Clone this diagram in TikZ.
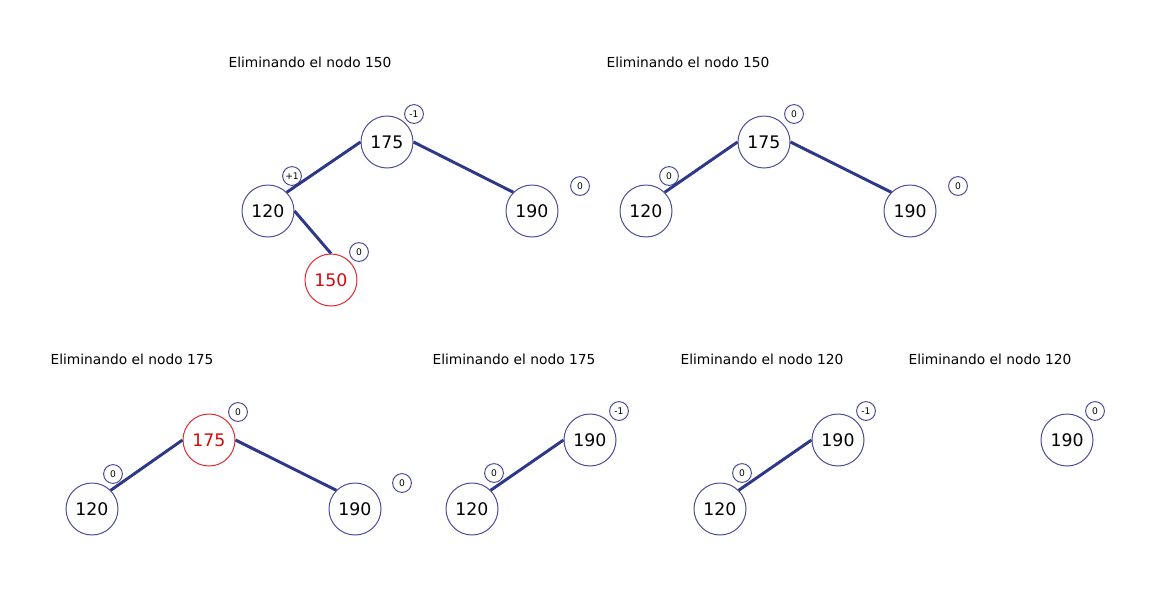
\documentclass[tikz,border=0pt]{standalone}
\usepackage{fontspec}
\setmainfont{DejaVu Sans}
\definecolor{nodeblue}{HTML}{4B4B98}
\definecolor{edgeblue}{HTML}{2E3888}
\definecolor{delred}{HTML}{E0282D}
\definecolor{deltext}{HTML}{D40A0A}
\begin{document}
\begin{tikzpicture}
[x=0.025cm,y=-0.025cm,
 keydecorate/.style={shape=circle,draw=nodeblue,line width=0.7pt,
   minimum size=1.3cm,inner sep=0pt,font=\fontsize{12.3}{14}\selectfont},%
 deldecorate/.style={keydecorate,draw=delred,text=deltext},
 balancedecorate/.style={shape=circle,draw=nodeblue,line width=0.7pt,
   minimum size=0.47cm,inner sep=0pt,font=\fontsize{6.5}{8}\selectfont},
 titledecorate/.style={anchor=base,inner sep=0pt,font=\fontsize{9.8}{12}\selectfont},
 linedecorate/.style={-,draw=edgeblue,line width=2.1pt}]
\useasboundingbox (0,0) rectangle (1160,593);
%% titles
\foreach \nodename/\x/\y/\key in {
  t1/310/67/150, t2/688/67/150,
  t3/132/364/175, t4/514/364/175, t5/762/364/120, t6/990/364/120}
{
  \node (\nodename) at (\x,\y) [titledecorate] {Eliminando el nodo \key};
}
%% nodes or keys
\foreach \nodename/\x/\y/\key/\look in {
  %% first tree
  a175/387/142/175/keydecorate, a120/268/211/120/keydecorate,
  a190/532/211/190/keydecorate, a150/331/280/150/deldecorate,
  %% second tree
  b175/764/142/175/keydecorate, b120/646/211/120/keydecorate,
  b190/910/211/190/keydecorate,
  %% third tree
  c175/209/440/175/deldecorate, c120/92/509/120/keydecorate,
  c190/355/509/190/keydecorate,
  %% fourth and fifth tree
  d190/590/440/190/keydecorate, d120/472/509/120/keydecorate,
  e190/838/440/190/keydecorate, e120/720/509/120/keydecorate,
  %% last tree
  f190/1067/440/190/keydecorate}
{
  \node (\nodename) at (\x,\y) [\look] {\key};
}
%% balance factors
\foreach \nodename/\x/\y/\factor in {
  a175b/414/114/-1, a120b/292/176/+1, a190b/580/186/0, a150b/359/252/0,
  b175b/794/114/0, b120b/669/176/0, b190b/958/186/0,
  c175b/238/412/0, c120b/113/474/0, c190b/402/483/0,
  d190b/619/411/-1, d120b/494/473/0,
  e190b/866/411/-1, e120b/742/473/0,
  f190b/1095/411/0}
{
  \node (\nodename) at (\x,\y) [balancedecorate] {\factor};
}
%% edges or lines
\path
\foreach \startnode/\endnode in {a175.west/a120.north east,
  a175.east/a190.north west, a120.east/a150.north,
  b175.west/b120.north east, b175.east/b190.north west,
  c175.west/c120.north east, c175.east/c190.north west,
  d190.west/d120.north east, e190.west/e120.north east}
{
  (\startnode) edge[linedecorate] (\endnode)
};
\end{tikzpicture}
\end{document}
